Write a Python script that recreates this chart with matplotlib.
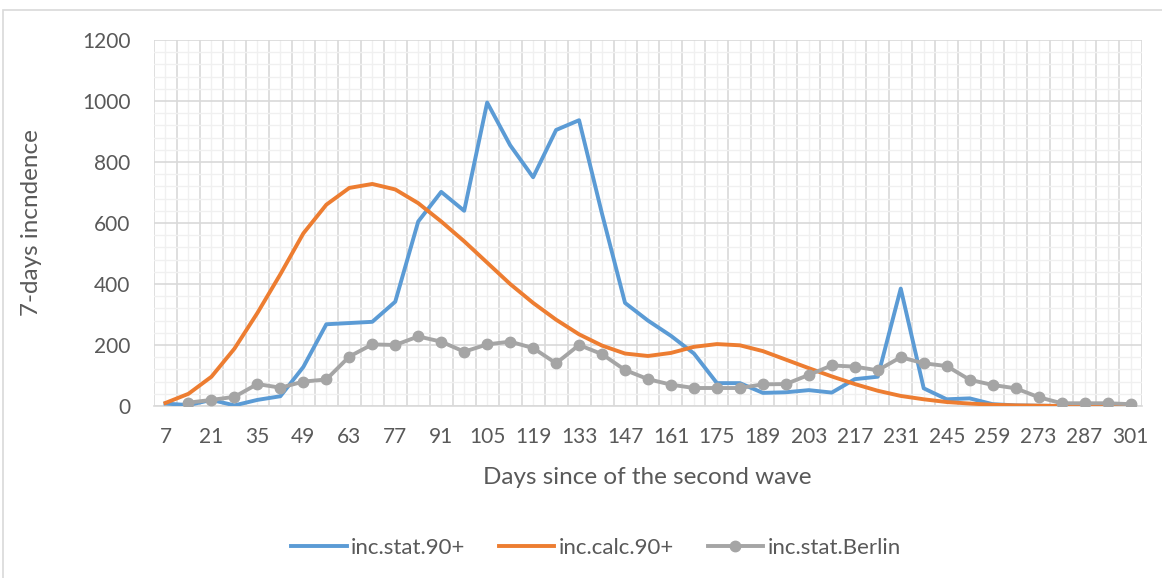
import matplotlib
matplotlib.use('Agg')
import matplotlib.pyplot as plt
from matplotlib.ticker import FixedLocator, FixedFormatter, MultipleLocator
from matplotlib.patches import Rectangle

plt.rcParams['font.family'] = ['Lato', 'DejaVu Sans']

# Data
days = list(range(7, 302, 7))
stat_90 = [8, 3, 20, 2, 20, 32, 128, 268, 272, 276, 342, 605, 702, 640, 995,
           855, 750, 905, 937, 630, 338, 280, 230, 172, 75, 75, 43, 45, 52, 44,
           88, 96, 385, 58, 22, 25, 6, 2, 1, 0, 0, 0, 0]
calc_90 = [10, 40, 96, 188, 305, 432, 566, 660, 715, 728, 710, 665, 605, 540,
           470, 400, 338, 283, 235, 198, 172, 164, 174, 194, 203, 199, 180, 152,
           124, 97, 72, 50, 33, 22, 13, 8, 4, 2, 1, 0, 0, 0, 0]
berlin = [None, 11, 20, 30, 72, 60, 80, 87, 162, 202, 200, 228, 211, 178, 202,
          211, 190, 140, 200, 170, 118, 88, 70, 59, 59, 59, 71, 72, 102, 133,
          129, 117, 160, 140, 131, 86, 69, 58, 29, 9, 9, 9, 6]

blue = '#5B9BD5'
orange = '#ED7D31'
grey = '#A5A5A5'
text_col = '#595959'

fig = plt.figure(figsize=(11.62, 5.78), dpi=100)
ax = fig.add_axes([154 / 1162, 1 - 406 / 578, 988 / 1162, 366 / 578])

# chart area border
fig.patches.append(Rectangle((3 / 1162, -0.05), 1.2, 1 - 10 / 578 + 0.05,
                             transform=fig.transFigure, fill=False,
                             edgecolor='#D9D9D9', linewidth=1.2))

x = list(range(len(days)))
bx = [i for i, v in zip(x, berlin) if v is not None]
bv = [v for v in berlin if v is not None]

ax.plot(x, stat_90, color=blue, linewidth=2.8, solid_joinstyle='round', zorder=3,
        label='inc.stat.90+')
ax.plot(x, calc_90, color=orange, linewidth=2.8, solid_joinstyle='round', zorder=4,
        label='inc.calc.90+')
ax.plot(bx, bv, color=grey, linewidth=2.8, marker='o', markersize=7.5, zorder=5,
        label='inc.stat.Berlin')

ax.set_xlim(-0.5, len(days) - 0.5)
ax.set_ylim(0, 1200)

# category boundaries as major grid, centers as minor grid + labels
ax.xaxis.set_major_locator(FixedLocator([i - 0.5 for i in range(len(days) + 1)]))
ax.xaxis.set_major_formatter(FixedFormatter([''] * (len(days) + 1)))
ax.xaxis.set_minor_locator(FixedLocator(x))
ax.xaxis.set_minor_formatter(FixedFormatter([str(d) if i % 2 == 0 else ''
                                             for i, d in enumerate(days)]))
ax.yaxis.set_major_locator(MultipleLocator(200))
ax.yaxis.set_minor_locator(MultipleLocator(40))

ax.grid(which='major', color='#D9D9D9', linewidth=1.2, zorder=0)
ax.grid(which='minor', color='#F0F0F0', linewidth=1.0, zorder=0)
ax.set_axisbelow(True)

ax.tick_params(axis='both', which='both', length=0, colors=text_col, labelsize=15)
ax.tick_params(axis='x', which='minor', pad=15)
ax.tick_params(axis='y', pad=17)

for s in ['top', 'right', 'left']:
    ax.spines[s].set_visible(False)
ax.spines['bottom'].set_color('#D9D9D9')
ax.spines['bottom'].set_linewidth(1.2)

ax.set_xlabel('Days since of the second wave', fontsize=17.5, color=text_col,
              va='center')
ax.xaxis.set_label_coords((647 - 154) / 988, (406 - 477) / 366)
ax.set_ylabel('7-days incndence', fontsize=17.5, color=text_col, va='center')
ax.yaxis.set_label_coords((32 - 154) / 988, (406 - 223) / 366)

leg = fig.legend(loc='center', bbox_to_anchor=(596 / 1162, 1 - 548 / 578), ncol=3,
                 frameon=False, fontsize=16, handlelength=2.5, handletextpad=0.2,
                 columnspacing=1.5, labelcolor=text_col)

fig.savefig('out.png', dpi=100)
